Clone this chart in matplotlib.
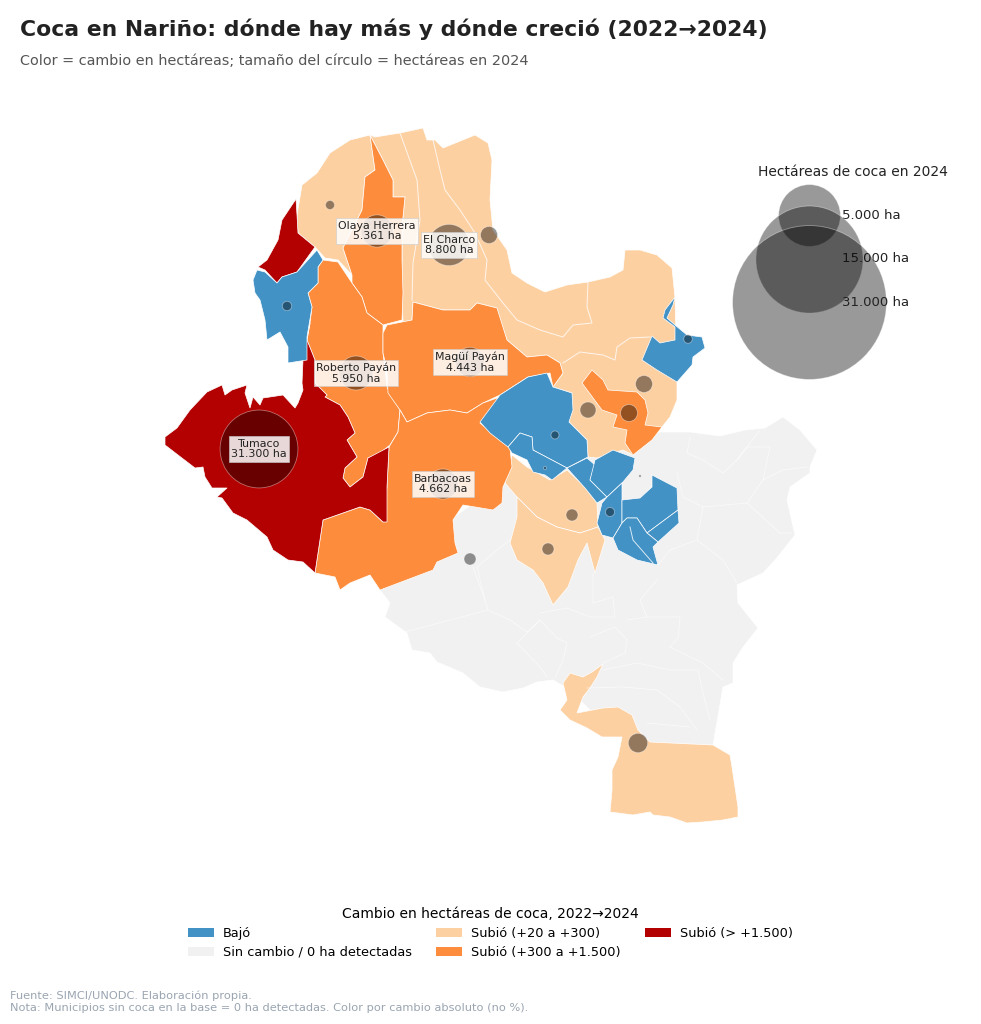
import numpy as np
import matplotlib
matplotlib.use("Agg")
import matplotlib.pyplot as plt
from matplotlib.patches import Patch, Polygon

plt.rcParams["font.family"] = "DejaVu Sans"

AZUL = "#4292c6"
GRIS = "#f1f1f1"
DURAZNO = "#fdd0a2"
NARANJA = "#fd8d3c"
ROJO = "#b30000"

# map outlines, in map units (y grows downward)
fondo_gris = [(660,432),(690,432),(720,436),(745,430),(765,428),(783,417),(800,430),(817,450),(810,467),(810,473),
    (790,487),(787,500),(795,535),(783,550),(775,560),(763,573),(737,585),(738,603),(758,628),(743,647),(733,663),
    (733,683),(723,687),(713,745),(650,750),(600,720),(570,690),(553,680),(537,682),(523,688),(503,692),(480,687),
    (463,673),(437,662),(430,653),(412,650),(407,633),(385,617),(390,603),(380,590),(450,520),(520,470),(620,440)]
durazno_sur = [(603,664),(597,677),(590,688),(583,697),(577,713),(603,708),(618,707),(632,715),(638,730),(650,742),
    (713,745),(730,755),(732,767),(735,787),(738,807),(738,817),(723,820),(703,822),(687,823),(670,817),(653,815),
    (650,812),(633,815),(610,812),(612,790),(612,770),(618,757),(622,737),(602,737),(587,728),(570,720),(560,710),
    (567,700),(563,683),(570,673),(583,677),(592,672)]
durazno_centro_a = [(505,483),(512,455),(527,467),(550,480),(567,470),(585,487),(597,503),(598,527),(580,533),(557,527),
    (537,517),(517,497)]
durazno_centro_b = [(517,497),(537,517),(557,527),(580,533),(598,527),(605,540),(595,573),(587,543),(578,560),(568,587),
    (553,605),(543,583),(533,570),(517,560),(510,543),(517,517)]
durazno_oeste = [(370,135),(350,140),(330,153),(317,173),(302,185),(297,215),(298,233),(315,247),(325,258),(338,260),
    (352,275),(343,248),(362,210),(365,177),(375,170)]
durazno_norte = [(375,137),(400,133),(423,128),(427,140),(435,140),(443,148),(475,135),(488,143),(492,160),(490,200),
    (493,230),(507,250),(512,273),(527,283),(545,292),(567,285),(588,282),(610,277),(623,270),(625,250),(640,250),
    (657,255),(672,268),(675,297),(677,382),(677,400),(670,417),(662,427),(633,455),(623,450),(597,458),(588,457),
    (587,440),(569,422),(572,393),(553,387),(563,373),(560,363),(547,355),(527,357),(507,340),(500,320),(497,308),
    (477,303),(470,310),(443,310),(413,302),(412,320),(403,322),(402,293),(402,260),(402,227),(405,197),(393,197),
    (393,180),(383,160),(370,135)]
olaya = [(370,135),(383,160),(393,180),(393,197),(405,197),(402,227),(402,260),(403,293),(402,320),(383,325),(367,313),
    (362,297),(352,283),(352,275),(343,248),(362,210),(365,177),(375,170)]
roberto = [(323,260),(338,262),(352,283),(362,297),(367,313),(383,325),(383,353),(387,387),(400,410),(398,432),(390,445),
    (380,453),(368,458),(363,477),(350,487),(343,478),(345,468),(357,457),(347,440),(355,433),(348,417),(340,405),
    (325,397),(327,395),(315,383),(315,360),(307,340),(310,323),(312,307),(308,293),(318,283),(318,267)]
magui = [(413,302),(443,310),(470,310),(477,303),(497,308),(507,340),(527,357),(547,355),(560,363),(563,373),(553,387),
    (550,373),(528,377),(500,395),(483,403),(467,413),(450,410),(427,413),(407,422),(400,410),(388,393),(387,370),
    (383,353),(383,333),(387,325),(402,322),(412,320)]
barbacoas = [(407,422),(427,413),(450,410),(467,413),(483,403),(500,397),(503,403),(480,423),(510,448),(512,467),(503,487),
    (502,503),(493,510),(463,505),(453,520),(455,543),(458,553),(437,562),(433,570),(380,590),(370,575),(350,583),
    (340,590),(335,577),(315,573),(323,520),(360,507),(370,510),(383,522),(387,487),(389,447),(398,432),(400,410)]
naranja_centro = [(592,370),(603,380),(608,390),(637,392),(645,400),(648,413),(645,425),(662,427),(652,440),(633,455),
    (625,443),(627,430),(613,427),(617,415),(602,410),(582,383)]
tumaco = [(165,437),(177,428),(190,410),(207,392),(222,385),(225,395),(232,390),(247,385),(245,393),(250,408),(253,397),
    (260,405),(263,398),(283,395),(295,408),(298,403),(303,390),(302,383),(303,360),(307,337),(310,323),(307,340),
    (315,360),(315,383),(327,395),(325,397),(340,405),(348,417),(355,433),(347,440),(357,457),(345,468),(343,478),
    (350,487),(363,477),(368,458),(389,447),(387,487),(387,522),(383,522),(370,510),(360,507),(323,520),(315,573),
    (303,562),(288,560),(273,550),(267,537),(247,520),(233,513),(222,498),(217,497),(227,488),(212,488),(205,477),
    (203,467),(195,468),(178,455),(165,445)]
rojo_norte = [(296,199),(282,220),(278,240),(267,260),(258,267),(265,270),(277,283),(282,277),(297,272),(315,247),(298,233),
    (297,215)]
azul_oeste = [(253,280),(257,270),(265,272),(277,283),(282,277),(297,272),(317,250),(323,260),(318,267),(318,283),(308,293),
    (312,307),(307,337),(307,360),(288,363),(288,347),(280,332),(267,340),(265,320),(260,300),(255,293)]
azul_grande = [(480,422),(500,395),(528,377),(547,373),(553,387),(572,393),(573,410),(569,422),(587,440),(588,457),(567,468),
    (533,450),(532,437),(520,433),(508,447),(490,433)]
azul_franja = [(508,447),(520,433),(532,437),(533,450),(567,468),(552,480),(545,475),(533,472),(527,460),(512,453)]
azul_c = [(567,468),(587,458),(595,465),(590,480),(607,497),(597,503),(585,488)]
azul_d = [(595,460),(613,450),(635,458),(633,470),(623,482),(607,497),(590,480)]
azul_e = [(607,497),(622,483),(622,523),(613,538),(602,535),(597,523),(602,503)]
azul_f = [(622,500),(640,498),(652,487),(652,475),(677,488),(678,510),(647,533),(637,518),(627,518),(622,523)]
azul_g = [(678,510),(679,523),(658,542),(647,533)]
azul_h = [(622,523),(627,518),(637,518),(647,533),(658,542),(653,547),(658,565),(637,560),(618,550),(613,538)]
azul_ne = [(675,297),(665,310),(663,318),(675,327),(675,340),(660,343),(652,336),(642,360),(657,370),(677,382),(692,365),
    (693,357),(705,348),(702,337),(687,335),(675,325),(667,318),(673,305)]

poligonos = [
    (fondo_gris, GRIS),
    (durazno_sur, DURAZNO), (durazno_centro_a, DURAZNO), (durazno_centro_b, DURAZNO),
    (durazno_oeste, DURAZNO), (durazno_norte, DURAZNO),
    (olaya, NARANJA), (roberto, NARANJA), (magui, NARANJA), (barbacoas, NARANJA), (naranja_centro, NARANJA),
    (tumaco, ROJO), (rojo_norte, ROJO),
    (azul_oeste, AZUL), (azul_grande, AZUL), (azul_franja, AZUL), (azul_c, AZUL), (azul_d, AZUL),
    (azul_e, AZUL), (azul_f, AZUL), (azul_g, AZUL), (azul_h, AZUL), (azul_ne, AZUL),
]

# municipal boundaries inside same-colour areas
limites_color = [
    [(400,133),(417,180),(420,220),(413,263),(412,300)],
    [(433,140),(440,170),(445,190),(460,210),(475,233),(487,260),(485,280),(503,303),(517,320),(540,330),(563,337),
     (573,325),(592,323),(587,307),(588,282)],
    [(563,363),(580,352),(603,355),(615,360),(617,347),(630,338),(650,337)],
    [(630,527),(633,540),(653,563)],
]
limites_gris = [
    [(405,632),(488,610)],
    [(473,567),(485,600),(488,610),(510,620),(527,632),(540,620),(557,638),(567,643),(563,660),(555,678)],
    [(517,643),(540,620)], [(517,643),(540,667),(547,677)],
    [(540,613),(567,608),(590,617),(615,617),(613,597),(593,603),(593,573)],
    [(590,637),(615,627),(627,640),(625,653),(603,663)],
    [(627,620),(647,617),(640,600),(657,580)], [(647,617),(680,617),(678,638),(670,647),(703,663),(723,680)],
    [(603,670),(637,663),(670,670),(698,670),(703,693),(710,720)],
    [(587,688),(623,687),(657,690),(680,707),(697,730)], [(647,723),(690,727)],
    [(690,437),(687,453),(703,460),(723,473),(737,460),(760,430)],
    [(677,473),(683,497),(703,507),(747,503),(763,480),(783,470),(807,467)],
    [(703,507),(697,540),(723,560),(737,583)], [(747,503),(780,533),(792,533)],
    [(697,540),(670,550),(658,565)],
    [(737,460),(747,447),(770,447),(763,480)],
    [(477,567),(497,550),(510,540)], [(477,567),(485,600)],
]

# coca circles: map position and hectares in 2024
circulo_x = [259, 449, 356, 377, 443, 470, 489, 330, 287, 688, 644, 588, 629, 555, 545, 640, 610, 572, 548, 470, 638]
circulo_y = [449, 245, 373, 231, 484, 362, 235, 205, 306, 339, 384, 410, 413, 435, 468, 476, 512, 515, 549, 559, 743]
circulo_ha = [31300, 8800, 5950, 5361, 4662, 4443, 1500, 420, 450, 380, 1490, 1320, 1490, 330, 46, 30, 420, 740, 740, 740, 1940]

etiquetas = ["Tumaco\n31.300 ha", "El Charco\n8.800 ha", "Roberto Payán\n5.950 ha", "Olaya Herrera\n5.361 ha",
             "Barbacoas\n4.662 ha", "Magüí Payán\n4.443 ha"]

leyenda_ha = [5000, 15000, 31000]
leyenda_txt = ["5.000 ha", "15.000 ha", "31.000 ha"]
clases = ["Bajó", "Sin cambio / 0 ha detectadas", "Subió (+20 a +300)", "Subió (+300 a +1.500)", "Subió (> +1.500)"]
clases_color = [AZUL, GRIS, DURAZNO, NARANJA, ROJO]


def area_puntos(ha, k):
    # circle area in pt^2, radius in px is k*sqrt(ha)
    return (2 * k * np.sqrt(np.array(ha)) * 0.72) ** 2


fig = plt.figure(figsize=(9.81, 10.24), dpi=100)
ax = fig.add_axes([0, 0, 1, 1])
ax.set_xlim(0, 981)
ax.set_ylim(1024, 0)
ax.axis("off")

for coords, color in poligonos:
    ax.add_patch(Polygon(coords, closed=True, facecolor=color, edgecolor="white", linewidth=0.5, joinstyle="round"))
for linea in limites_color:
    xs, ys = zip(*linea)
    ax.plot(xs, ys, color="white", lw=0.7, alpha=0.8)
for linea in limites_gris:
    xs, ys = zip(*linea)
    ax.plot(xs, ys, color="white", lw=0.6, alpha=0.6)

ax.scatter(circulo_x, circulo_y, s=area_puntos(circulo_ha, 0.22), color="black", alpha=0.42,
           edgecolors="white", linewidths=0.6, zorder=5)

for i, txt in enumerate(etiquetas):
    ax.text(circulo_x[i], circulo_y[i], txt, ha="center", va="center", fontsize=7.9, color="#222222", zorder=6,
            linespacing=1.12,
            bbox=dict(boxstyle="square,pad=0.2", facecolor="white", edgecolor="#cccccc", linewidth=0.5, alpha=0.85))

fig.text(20/981, 1 - 29/1024, "Coca en Nariño: dónde hay más y dónde creció (2022→2024)", fontsize=15.77, fontweight="bold",
         color="#222222", va="center")
fig.text(20/981, 1 - 61/1024, "Color = cambio en hectáreas; tamaño del círculo = hectáreas en 2024", fontsize=10.4,
         color="#555555", va="center")

handles_size = [ax.scatter([], [], s=area_puntos(h, 0.437), color="black", alpha=0.4, edgecolors="white", linewidths=0.6)
                for h in leyenda_ha]
ley_size = ax.legend(handles_size, leyenda_txt, title="Hectáreas de coca en 2024", frameon=False, fontsize=9.5,
                     title_fontsize=10, labelspacing=2.3, handletextpad=1.55, borderpad=0,
                     loc="upper left", bbox_to_anchor=(751/981, 1 - 158/1024))
for t in ley_size.get_texts():
    t.set_color("#222222")
ley_size.get_title().set_color("#222222")

parches = [Patch(facecolor=c, edgecolor="none") for c in clases_color]
fig.legend(parches, clases, title="Cambio en hectáreas de coca, 2022→2024", ncol=3, frameon=False, fontsize=9.3,
           title_fontsize=10, loc="lower center", bbox_to_anchor=(0.5, 1 - 965/1024), borderpad=0, labelspacing=0.45,
           columnspacing=1.9, handletextpad=0.7)

fig.text(10/981, 1 - 1001.5/1024, "Fuente: SIMCI/UNODC. Elaboración propia.\nNota: Municipios sin coca en la base = 0 ha detectadas. Color por cambio absoluto (no %).",
         fontsize=8.2, color="#9aa5b1", va="center", linespacing=1.25)

fig.savefig("out.png", dpi=100, facecolor="white")
